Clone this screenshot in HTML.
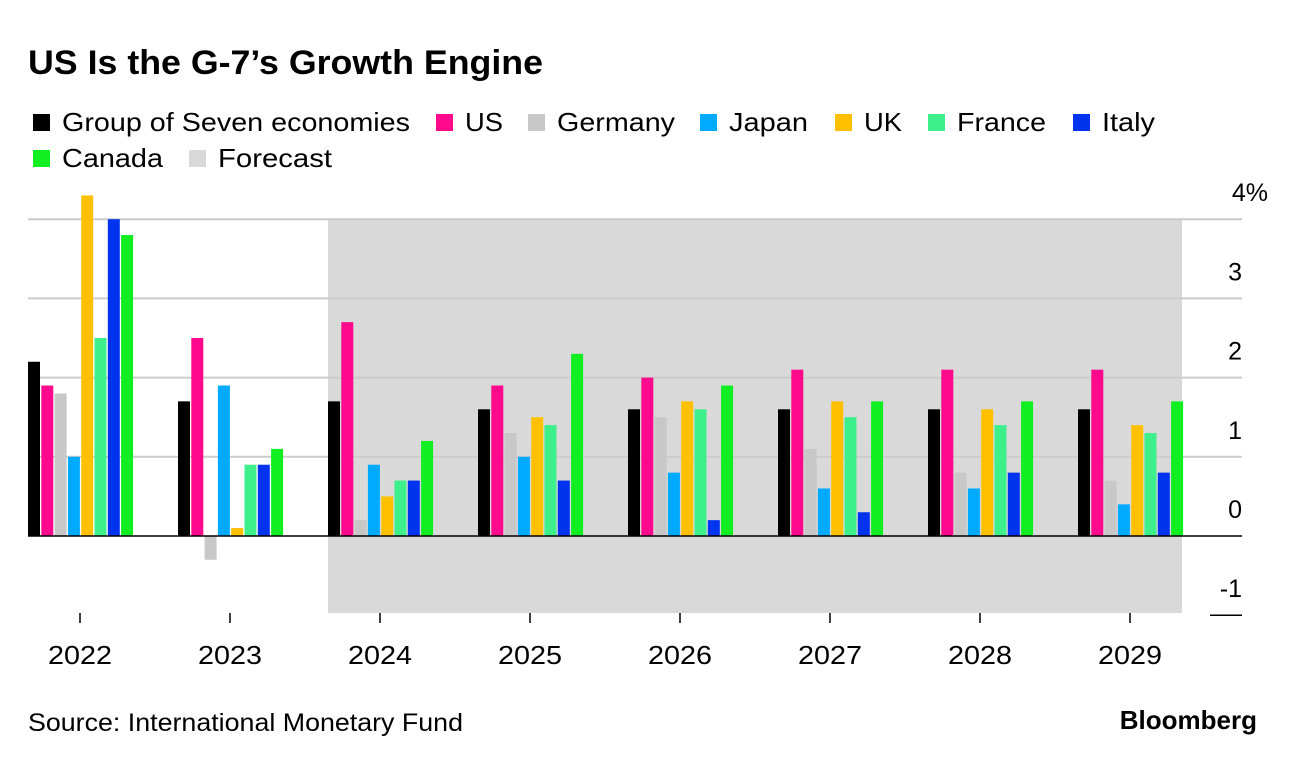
<!DOCTYPE html>
<html><head><meta charset="utf-8"><style>
body{margin:0;background:#fff;font-family:"Liberation Sans",sans-serif}
svg text{font-family:"Liberation Sans",sans-serif}
</style></head><body>
<svg id="c" width="1296" height="764" xmlns="http://www.w3.org/2000/svg">
<text x="28" y="74" font-size="34" font-weight="bold" fill="#000" textLength="515" lengthAdjust="spacingAndGlyphs">US Is the G-7’s Growth Engine</text>
<g id="legend"></g>
<rect x="328" y="219" width="854" height="394" fill="#d9d9d9"/>
<g id="grid"></g><g id="bars"></g><g id="xaxis"></g>
<text x="28" y="731" font-size="25" fill="#000" textLength="435" lengthAdjust="spacingAndGlyphs">Source: International Monetary Fund</text>
<text x="1257" y="729" font-size="26" font-weight="bold" text-anchor="end" fill="#000">Bloomberg</text>
</svg>
<script>
const years=["2022","2023","2024","2025","2026","2027","2028","2029"];
const seriesNames=["Group of Seven economies","US","Germany","Japan","UK","France","Italy","Canada"];
const g7=[2.2,1.7,1.7,1.6,1.6,1.6,1.6,1.6];
const us=[1.9,2.5,2.7,1.9,2.0,2.1,2.1,2.1];
const germany=[1.8,-0.3,0.2,1.3,1.5,1.1,0.8,0.7];
const japan=[1.0,1.9,0.9,1.0,0.8,0.6,0.6,0.4];
const uk=[4.3,0.1,0.5,1.5,1.7,1.7,1.6,1.4];
const france=[2.5,0.9,0.7,1.4,1.6,1.5,1.4,1.3];
const italy=[4.0,0.9,0.7,0.7,0.2,0.3,0.8,0.8];
const canada=[3.8,1.1,1.2,2.3,1.9,1.7,1.7,1.7];
const yTicks=[-1,0,1,2,3,4];
const yTickLabels=["-1","0","1","2","3","4%"];
const series=[g7,us,germany,japan,uk,france,italy,canada];
const colors=["#000000","#ff0a8c","#c8c8c8","#00aaff","#ffc000","#3ef08c","#0033ee","#11ee22"];
const NS="http://www.w3.org/2000/svg";
const y=v=>536-v*79.2;
const xc=i=>80+i*150;
function el(t,a,p){const e=document.createElementNS(NS,t);for(const k in a)e.setAttribute(k,a[k]);document.getElementById(p).appendChild(e);return e;}
const legTx=[[62,122,348],[465,122,38],[557,122,118],[729,122,79],[864,122,38],[957,122,89],[1102,122,53],[62,158,101],[218,158,114]];
const legNames=seriesNames.concat(["Forecast"]);const legCols=colors.concat(["#d9d9d9"]);
legNames.forEach((n,i)=>{const [tx,ly,w]=legTx[i];
 const r=el("rect",{x:tx-29,y:ly-8,width:17,height:17,fill:legCols[i]},"legend");
 
 
 const t=el("text",{x:tx,y:ly+9,"font-size":26,fill:"#000",textLength:w,lengthAdjust:"spacingAndGlyphs"},"legend");t.textContent=n;
 
 });
yTicks.forEach((v,i)=>{
 if(v>0){const l=el("line",{x1:28,x2:1242,y1:y(v),y2:y(v),stroke:"#cccccc","stroke-width":2},"grid");
 
 }
 const t=el("text",{x:1242,y:y(v)-18,"font-size":25,"text-anchor":"end",fill:"#000"},"grid");t.textContent=yTickLabels[i];
 if(v===4)t.setAttribute("x",1268);
 
 });
years.forEach((yr,i)=>{series.forEach((s,j)=>{const v=s[i];const x0=xc(i)-52+j*13.3;
 const r=el("rect",{x:x0,y:Math.min(y(v),y(0)),width:12,height:Math.abs(y(v)-y(0)),fill:colors[j]},"bars");
 
 });});
const z=el("line",{x1:28,x2:1242,y1:y(0),y2:y(0),stroke:"#000","stroke-width":1.5},"xaxis");


const m=el("line",{x1:1210,x2:1242,y1:y(-1),y2:y(-1),stroke:"#000","stroke-width":1.5},"xaxis");


years.forEach((yr,i)=>{const tk=el("line",{x1:xc(i),x2:xc(i),y1:613,y2:623,stroke:"#000","stroke-width":1.5},"xaxis");
 
 
 const t=el("text",{x:xc(i),y:664,"font-size":26,"text-anchor":"middle",fill:"#000",textLength:64,lengthAdjust:"spacingAndGlyphs"},"xaxis");t.textContent=yr;
 
 });
</script>
</body></html>
